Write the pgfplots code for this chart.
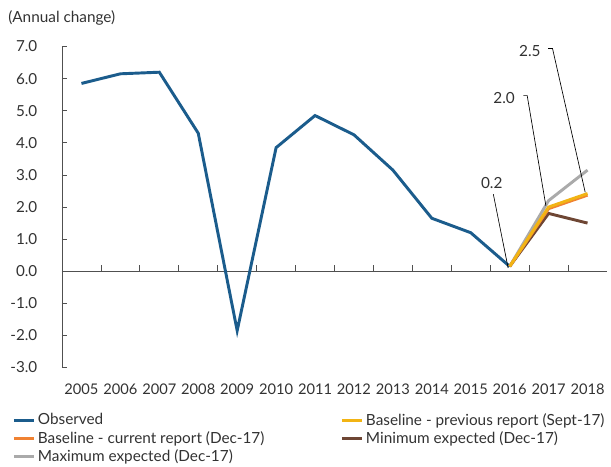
\documentclass[border=0pt]{standalone}
\usepackage{pgfplots}
\pgfplotsset{compat=1.18}
\usepackage{fontspec}
\setmainfont{Lato}
\definecolor{obs}{RGB}{27,92,140}
\definecolor{yel}{RGB}{242,180,20}
\definecolor{ora}{RGB}{240,130,50}
\definecolor{bro}{RGB}{110,70,52}
\definecolor{gra}{RGB}{170,170,170}
\definecolor{txt}{RGB}{50,50,50}
\definecolor{axc}{RGB}{80,80,80}
\begin{document}
\begin{tikzpicture}
\begin{axis}[
  name=ax,
  scale only axis,
  width=408.75pt, height=240.75pt,
  xmin=-0.5, xmax=13.5, ymin=-3, ymax=7,
  axis y line*=left,
  y axis line style={-, draw=axc, line width=0.6pt},
  x axis line style={draw=none},
  xtick={0,...,13},
  xticklabels={2005,2006,2007,2008,2009,2010,2011,2012,2013,2014,2015,2016,2017,2018},
  xtick style={draw=none},
  ytick={-3,-2,...,7},
  yticklabel={\pgfmathprintnumber[fixed,fixed zerofill,precision=1]{\tick}},
  /pgf/number format/assume math mode=true,
  tick align=inside,
  major tick length=3.5pt,
  ytick style={draw=axc, line width=0.6pt},
  ticklabel style={font=\fontsize{11}{13}\selectfont, text=txt},
  yticklabel style={xshift=-15pt, font=\fontsize{11.4}{13}\selectfont},
  xticklabel style={yshift=-8.5pt},
  clip=false,
  legend columns=2,
  legend cell align=left,
  legend style={draw=none, fill=none, at={(-0.0917,-0.133)}, anchor=north west,
    font=\fontsize{11.5}{13}\selectfont, text=txt, inner sep=0pt,
    row sep=-0.7pt,
    /tikz/every even column/.append style={column sep=55pt}},
  legend image code/.code={\draw[#1, line width=2.2pt] (0pt,0pt) -- (15pt,0pt);},
]
% x axis at zero with ticks between categories
\draw[axc, line width=0.6pt] (axis cs:-0.5,0) -- (axis cs:13.5,0);
\pgfplotsinvokeforeach{0.5,1.5,...,12.5}{\draw[axc, line width=0.6pt] (axis cs:#1,0) -- ([yshift=4.7pt]axis cs:#1,0);}

\addplot[obs, line width=2.2pt, forget plot] coordinates {
(0,5.85) (1,6.15) (2,6.2) (3,4.3) (4,-1.85) (5,3.85) (6,4.85) (7,4.25) (8,3.15) (9,1.65) (10,1.2) (11,0.15)};
\addplot[gra, line width=2.2pt, forget plot] coordinates {(11,0.15) (12,2.2) (13,3.15)};
\addplot[bro, line width=2.2pt, forget plot] coordinates {(11,0.15) (12,1.8) (13,1.5)};
\addplot[ora, line width=2.2pt, forget plot] coordinates {(11,0.15) (12,1.95) (13,2.37)};
\addplot[yel, line width=2.2pt, forget plot] coordinates {(11,0.15) (12,2.0) (13,2.42)};

\addlegendimage{obs}\addlegendentry{Observed}
\addlegendimage{yel}\addlegendentry{Baseline - previous report (Sept-17)}
\addlegendimage{ora}\addlegendentry{Baseline - current report (Dec-17)}
\addlegendimage{bro}\addlegendentry{Minimum expected (Dec-17)}
\addlegendimage{gra}\addlegendentry{Maximum expected (Dec-17)}

% annotations
\draw[black, line width=0.5pt] (axis cs:10.58,2.40) -- (axis cs:10.96,0.1);
\node[font=\fontsize{11.5}{13}\selectfont, text=txt, inner sep=0pt] at (axis cs:10.54,2.74) {0.2};
\draw[black, line width=0.5pt] (axis cs:11.35,5.47) -- (axis cs:11.45,5.47) -- (axis cs:11.93,2.04);
\node[font=\fontsize{11.5}{13}\selectfont, text=txt, anchor=east, inner sep=0pt] at (axis cs:11.14,5.39) {2.0};
\draw[black, line width=0.5pt] (axis cs:11.99,6.94) -- (axis cs:12.10,6.94) -- (axis cs:12.94,2.46);
\node[font=\fontsize{11.5}{13}\selectfont, text=txt, anchor=east, inner sep=0pt] at (axis cs:11.80,6.87) {2.5};
\end{axis}
\node[font=\fontsize{11.5}{13}\selectfont, text=txt, anchor=west, inner sep=0pt] at ([xshift=-40.5pt,yshift=21.4pt]ax.north west) {(Annual change)};
\pgfresetboundingbox
\path[use as bounding box] ([xshift=-46.5pt,yshift=-74.6pt]ax.south west) rectangle ++(458.25pt,350.25pt);
\end{tikzpicture}
\end{document}
